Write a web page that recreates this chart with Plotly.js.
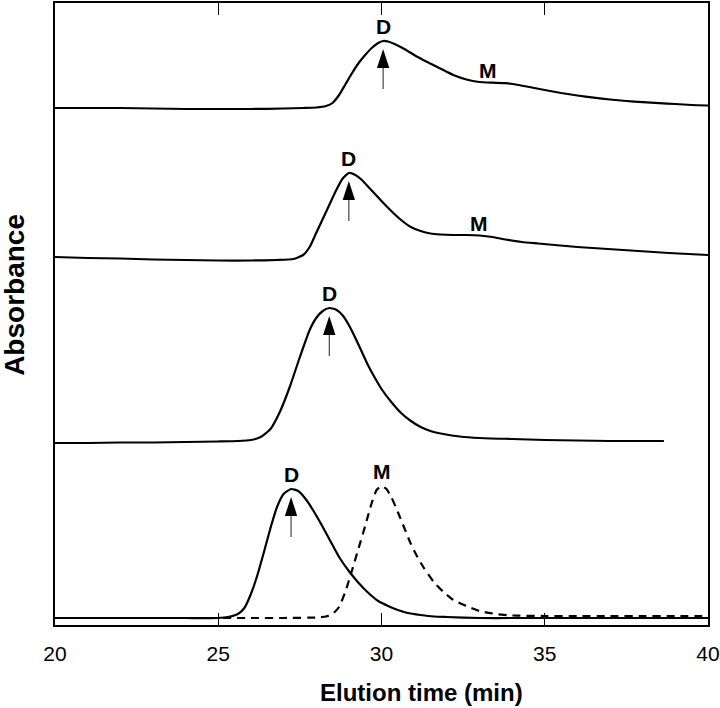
<!DOCTYPE html>
<html><head><meta charset="utf-8">
<script src="https://cdn.plot.ly/plotly-3.0.1.min.js"></script>
<style>html,body{margin:0;padding:0;background:#fff}#chart{width:720px;height:708px}</style>
</head><body><div id="chart"></div>
<script>
// Elution time (min) and absorbance (arbitrary units, relative to each trace's own baseline)
const time1 = [20,21,22,23,24,25,26,27,27.6,28.0,28.3,28.5,28.7,28.9,29.1,29.3,29.5,29.7,29.9,30.05,30.2,30.4,30.7,31.0,31.4,31.8,32.2,32.6,33.0,33.4,33.8,34.2,34.6,35.0,35.5,36.0,36.5,37.0,37.5,38.0,38.5,39.0,39.5,40.0];
const abs1  = [0,0,0,-0.5,-1,-1,-1,-0.5,0,0.5,2,5,13,24,35,45,53,60,65,67,66.5,64,59,53,46,39.5,33,28.5,26,25.3,24.8,23,20.5,18,15,12.5,10.3,8.5,7,5.8,4.8,4,3,2.5];

const time2 = [20,21,22,23,24,25,26,26.8,27.3,27.6,27.8,28.0,28.2,28.4,28.6,28.8,29.0,29.2,29.4,29.6,29.8,30.0,30.3,30.6,30.9,31.2,31.5,31.8,32.2,32.6,33.0,33.4,33.8,34.3,34.8,35.3,36.0,36.7,37.4,38.1,38.8,39.4,40.0];
const abs2  = [0,-1,-1.5,-2.5,-3,-3.5,-3.5,-3,-2,2,10,24,38,52,66,78,84,82,77,70,63,56,46,37,30,26,23.5,22.5,22,22,21.5,20,17.5,15,13.5,12,10,8.5,7,5.5,4,3,2];

const time3 = [20,21,22,23,24,25,25.6,26.0,26.3,26.6,26.9,27.2,27.5,27.8,28.0,28.2,28.4,28.6,28.8,29.0,29.2,29.4,29.6,29.8,30.0,30.3,30.6,30.9,31.2,31.5,31.9,32.4,33.0,34.0,35.0,36.0,37.0,38.0,38.65];
const abs3  = [0,0,0.5,0.5,1,1.5,2,3,6,14,32,57,86,113,125,132,135,133.5,128,118,105,91,77,65,54,41,30,22,16,12,9,6.5,5,4,3,2.5,2,2,2];

const time4 = [20,21,22,23,24,25,25.3,25.6,25.8,26.0,26.2,26.4,26.6,26.8,27.0,27.23,27.45,27.7,27.9,28.15,28.4,28.7,29.0,29.3,29.6,29.9,30.2,30.5,30.8,31.2,31.6,32.0,33.0,34.0,35.0,36.0,37.0,38.0,39.0,40.0];
const abs4  = [0,0,0,0,0,0,1,4,10,24,43,66,90,111,124,129,127,118,108,94,79,61,47,35,25,17,12,8,5,3,1.5,1,0,0,0,0,0,0,0,0];

const time5 = [20,22,24,26,27,28.0,28.3,28.5,28.7,28.9,29.1,29.3,29.5,29.7,29.85,30.0,30.15,30.3,30.5,30.7,30.9,31.1,31.3,31.6,31.9,32.2,32.6,33.0,33.5,34.0,35,36,37,38,39,40];
const abs5  = [0,0,0,0,0,0.5,1.5,4,11,27,48,70,92,115,128,132,129,121,106,90,74,61,50,36,26,18,12,7,4,2.5,2,2,2,2,2,2];

// vertical stacking of the four chromatograms (baseline levels)
const baselines = [517, 368, 182, 7, 7];
const seriesTimes = [time1, time2, time3, time4, time5];
const seriesAbs   = [abs1, abs2, abs3, abs4, abs5];
const seriesDash  = ['solid','solid','solid','solid','8px,6px'];

// peak labels
const dLabelSeries = [0, 1, 2, 3];          // "D" labels at the dimer peak of these series
const mShoulderTimes = [33.26, 32.99];      // "M" labels on shoulders of series 0 and 1
const mShoulderSeries = [0, 1];
const mPeakSeries = 4;                       // "M" label on the dashed monomer peak
const xTicks = [20, 25, 30, 35, 40];

const FONT = 'Liberation Sans, Arial, Helvetica, sans-serif';

function interp(ts, vs, t) {
  for (let i = 0; i < ts.length - 1; i++) {
    if (t >= ts[i] && t <= ts[i+1]) {
      const f = (t - ts[i]) / (ts[i+1] - ts[i]);
      return vs[i] + f * (vs[i+1] - vs[i]);
    }
  }
  return vs[vs.length - 1];
}
function peakOf(k) {
  const v = seriesAbs[k];
  let m = 0;
  for (let i = 1; i < v.length; i++) if (v[i] > v[m]) m = i;
  return {t: seriesTimes[k][m], y: v[m] + baselines[k]};
}

const traces = seriesTimes.map((ts, k) => ({
  type: 'scatter', mode: 'lines',
  x: ts, y: seriesAbs[k].map(v => v + baselines[k]),
  line: {color: '#000', width: 2.2, shape: 'spline', smoothing: 0.5, dash: seriesDash[k]},
  hoverinfo: 'skip', showlegend: false
}));

// arrows under each D peak
const stemX = [], stemY = [], headX = [], headY = [];
const annotations = [];
dLabelSeries.forEach(k => {
  const p = peakOf(k);
  const tip = p.y - 8;
  headX.push(p.t); headY.push(tip);
  stemX.push(p.t, p.t, null); stemY.push(tip - 14, tip - 40, null);
  annotations.push({x: p.t, y: p.y, xref: 'x', yref: 'y', text: '<b>D</b>', showarrow: false,
    yshift: 15, yanchor: 'middle', font: {family: FONT, size: 21, color: '#000'}});
});
mShoulderSeries.forEach((k, i) => {
  const t = mShoulderTimes[i];
  const y = interp(seriesTimes[k], seriesAbs[k], t) + baselines[k];
  annotations.push({x: t, y: y, xref: 'x', yref: 'y', text: '<b>M</b>', showarrow: false,
    yshift: 12, yanchor: 'middle', font: {family: FONT, size: 21, color: '#000'}});
});
{
  const p = peakOf(mPeakSeries);
  annotations.push({x: p.t, y: p.y, xref: 'x', yref: 'y', text: '<b>M</b>', showarrow: false,
    yshift: 15, yanchor: 'middle', font: {family: FONT, size: 21, color: '#000'}});
}
traces.push({type: 'scatter', mode: 'lines', x: stemX, y: stemY,
  line: {color: '#222', width: 1}, hoverinfo: 'skip', showlegend: false});
traces.push({type: 'scatter', mode: 'markers', x: headX, y: headY,
  marker: {symbol: 'arrow', size: 20, color: '#000', line: {width: 0}},
  hoverinfo: 'skip', showlegend: false});

annotations.push({xref: 'paper', yref: 'paper', x: 0.562, y: -0.108, text: '<b>Elution time (min)</b>',
  showarrow: false, xanchor: 'center', yanchor: 'middle', font: {family: FONT, size: 24, color: '#000'}});
annotations.push({xref: 'paper', yref: 'paper', x: -0.062, y: 0.53, text: '<b>Absorbance</b>', textangle: -90,
  showarrow: false, xanchor: 'center', yanchor: 'middle', font: {family: FONT, size: 28, color: '#000'}});

const layout = {
  width: 720, height: 708,
  margin: {l: 55, r: 12, t: 3, b: 83},
  paper_bgcolor: '#fff', plot_bgcolor: '#fff',
  showlegend: false,
  xaxis: {range: [20, 40], tickvals: xTicks, ticktext: xTicks.map(String),
    ticks: 'inside', ticklen: 12, tickwidth: 1, tickcolor: '#000',
    showline: true, linewidth: 2, linecolor: '#000', mirror: 'ticks',
    showgrid: false, zeroline: false, ticklabelstandoff: 9,
    tickfont: {family: FONT, size: 21, color: '#000'}},
  yaxis: {range: [0, 622], showticklabels: false, ticks: '',
    showline: true, linewidth: 2, linecolor: '#000', mirror: true,
    showgrid: false, zeroline: false},
  annotations: annotations
};

Plotly.newPlot('chart', traces, layout, {staticPlot: true, displayModeBar: false});
</script></body></html>
